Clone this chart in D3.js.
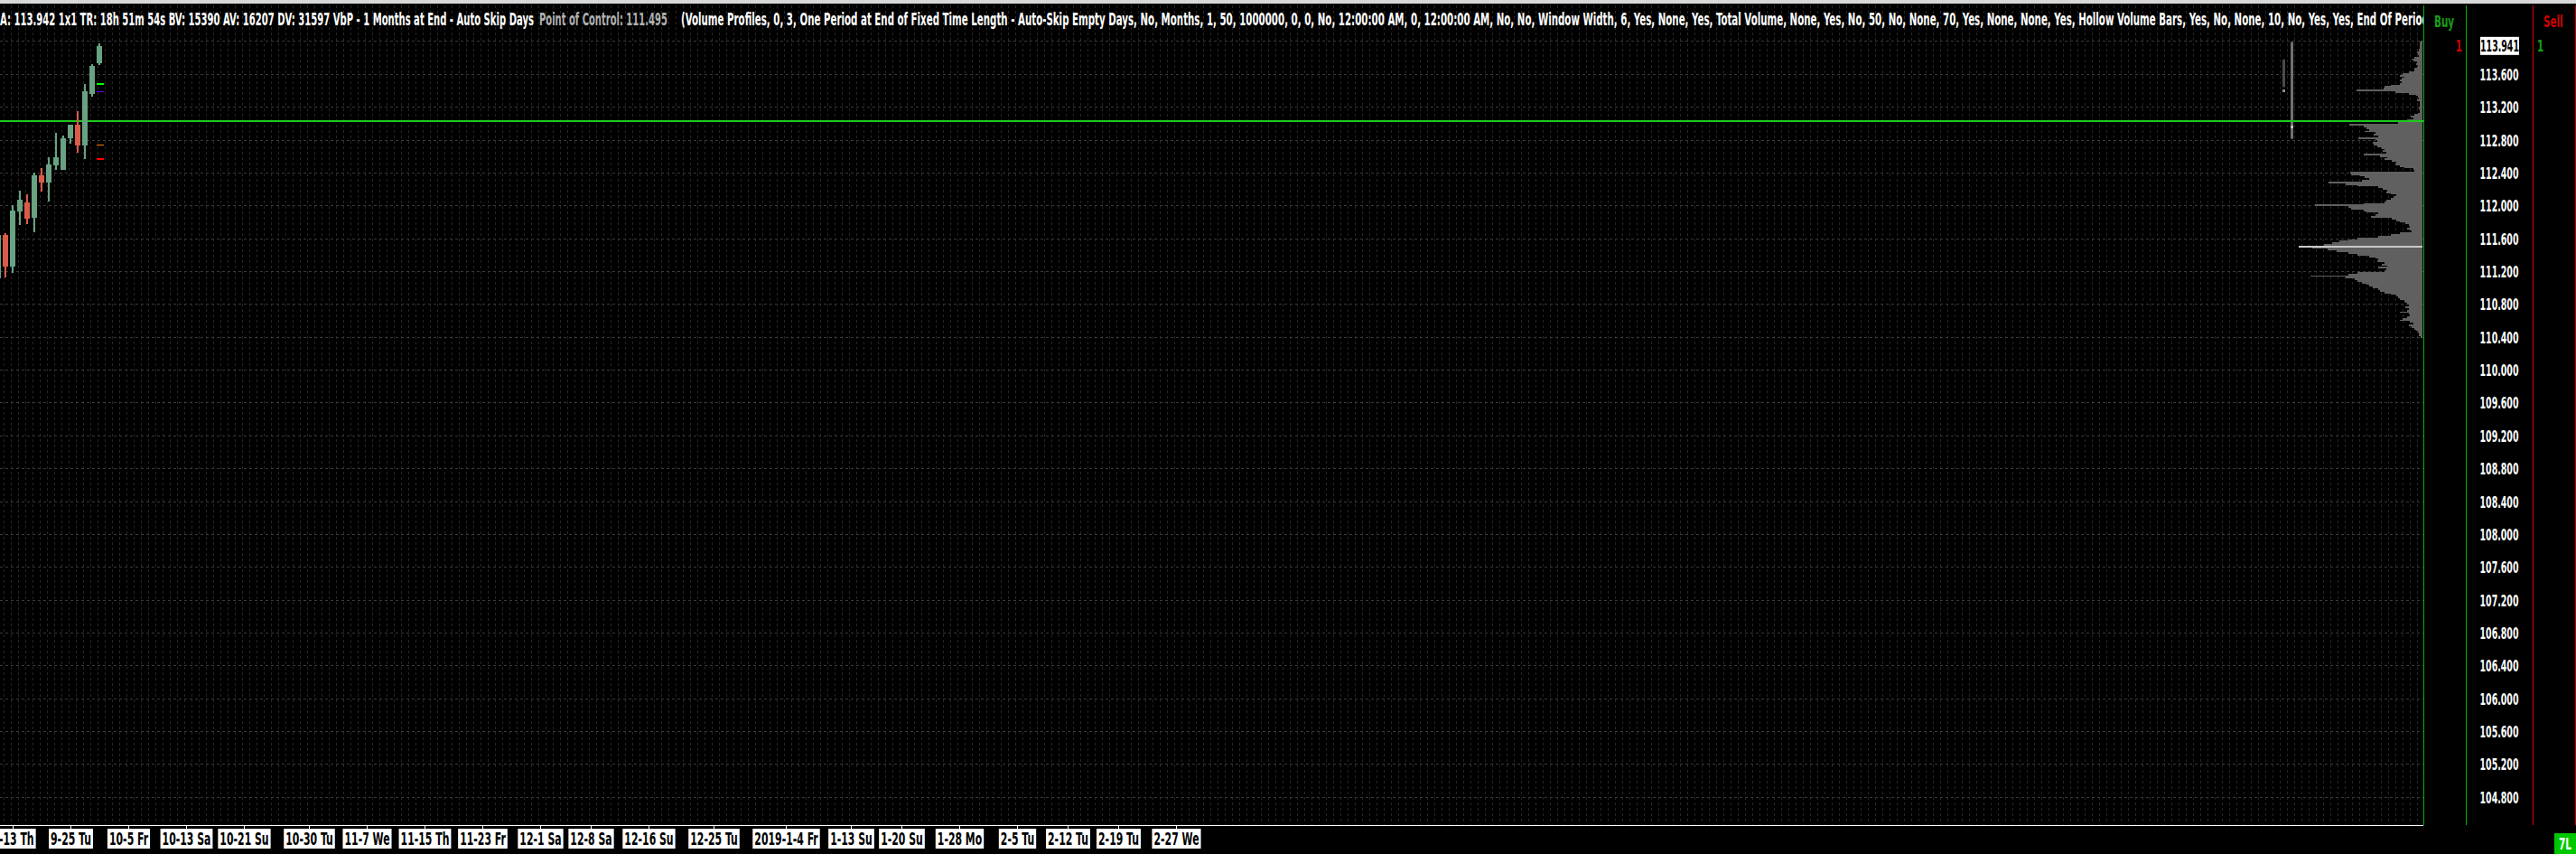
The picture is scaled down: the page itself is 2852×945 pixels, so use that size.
<!DOCTYPE html>
<html><head><meta charset="utf-8">
<script src="https://cdn.jsdelivr.net/npm/d3@7"></script>
<style>
html,body{margin:0;padding:0;background:#000;overflow:hidden}
svg{display:block}
text{font-family:'Liberation Sans Narrow','DejaVu Sans Condensed','Liberation Sans',Arial,sans-serif;font-weight:bold}
</style></head><body>
<svg id="c" width="2852" height="945"></svg>
<script>
// ---------- DATA ----------
const candleIdx   = [0,1,2,3,4,5,6,7,8,9,10,11,12,13,14];
const candleOpen  = [111.116,111.640,111.255,111.926,112.036,111.849,112.366,112.278,112.488,112.432,112.817,112.983,112.730,113.357,113.730];
const candleHigh  = [111.660,111.662,112.003,112.179,112.135,112.399,112.454,112.586,112.884,112.850,112.983,113.148,113.478,113.720,113.973];
const candleLow   = [111.100,111.124,111.178,111.761,111.772,111.673,112.168,112.047,112.432,112.432,112.751,112.642,112.565,113.324,113.709];
const candleClose = [111.640,111.255,111.937,112.070,111.838,112.366,112.278,112.498,112.586,112.817,112.983,112.730,113.390,113.698,113.942];

const markerPrices = [113.481,113.389,112.741,112.564];
const markerColors = ['#00ff00','#7a00ff','#ff8000','#ff0000'];
const markerWidths = [2,1,1,2];

const hLinePrice = 113.026;
const lastPrice = 113.941;

const priceTicks = [113.6,113.2,112.8,112.4,112.0,111.6,111.2,110.8,110.4,110.0,109.6,109.2,108.8,108.4,108.0,107.6,107.2,106.8,106.4,106.0,105.6,105.2,104.8];
const priceGrid  = [114.0].concat(priceTicks);

const dateLabels = ["9-13 Th","9-25 Tu","10-5 Fr","10-13 Sa","10-21 Su","10-30 Tu","11-7 We","11-15 Th","11-23 Fr","12-1 Sa","12-8 Sa","12-16 Su","12-25 Tu","2019-1-4 Fr","1-13 Su","1-20 Su","1-28 Mo","2-5 Tu","2-12 Tu","2-19 Tu","2-27 We"];
const dateIdx    = [2,10,18,26,34,43,51,59,67,75,82,90,99,109,118,125,133,141,148,155,163];

// volume profile: levels from profileTop downward, step profileStep
const profileTop = 114.00, profileStep = 0.02;
const profileVol = [
 20,27,30,27,33,37,43,63,53,43,
 87,120,103,60,70,53,63,87,93,153,
 220,253,203,227,247,233,253,353,420,427,
 727,303,153,70,53,43,60,33,27,33,
 30,40,27,33,53,87,127,103,170,253,
 270,810,653,620,587,637,520,537,487,710,
 520,503,553,537,503,453,420,437,403,653,
 470,387,420,337,287,303,253,203,103,87,
 803,787,687,637,587,670,1037,853,720,487,
 437,387,403,353,287,320,353,403,420,653,
 1187,820,787,653,620,487,520,570,337,287,
 253,187,153,137,170,137,120,253,353,487,
 720,820,920,1003,1087,1370,1220,1053,953,820,
 720,587,520,487,503,420,453,387,487,403,
 420,720,820,1237,853,753,720,670,620,587,
 553,487,470,420,353,287,270,253,203,187,
 170,153,187,153,170,253,153,137,170,220,
 253,137,103,153,120,87,70,53,37,37,
 20];
const pocPrice = 111.495;

// range bars in profile area
const rangeHigh = [113.777,113.990];
const rangeLow  = [113.440,112.810];
const rangeMark = [113.400,112.960];

const hdr1 = "A: 113.942 1x1 TR: 18h 51m 54s BV: 15390 AV: 16207 DV: 31597 VbP - 1 Months at End - Auto Skip Days";
const hdr2 = "Point of Control: 111.495";
const hdr3 = "(Volume Profiles, 0, 3, One Period at End of Fixed Time Length - Auto-Skip Empty Days, No, Months, 1, 50, 1000000, 0, 0, No, 12:00:00 AM, 0, 12:00:00 AM, No, No, Window Width, 6, Yes, None, Yes, Total Volume, None, Yes, No, 50, No, None, 70, Yes, None, None, Yes, Hollow Volume Bars, Yes, No, None, 10, No, Yes, Yes, End Of Period)";

// ---------- LAYOUT ----------
const W = 2852, H = 945;
const plotR = 2683, plotB = 913;
const svg = d3.select('#c');
svg.append('rect').attr('width',W).attr('height',H).attr('fill','#000');

const y = d3.scaleLinear().domain([104.457,114.5]).range([plotB,0]);
const x = d3.scaleLinear().domain([0,1]).range([-2,6]);

const defs = svg.append('defs');
defs.append('clipPath').attr('id','plotclip').append('rect').attr('x',0).attr('y',0).attr('width',plotR).attr('height',plotB);

const plot = svg.append('g').attr('clip-path','url(#plotclip)');

// grid
const vgrid = d3.range(0, 336);
plot.append('g').selectAll('line').data(vgrid).join('line')
  .attr('x1',d=>Math.round(x(d)-2.5)+0.5).attr('x2',d=>Math.round(x(d)-2.5)+0.5)
  .attr('y1',0).attr('y2',plotB)
  .attr('stroke','#262626').attr('stroke-width',1).attr('stroke-dasharray','3,3');
plot.append('g').selectAll('line').data(priceGrid).join('line')
  .attr('x1',0).attr('x2',plotR)
  .attr('y1',d=>Math.round(y(d))+0.5).attr('y2',d=>Math.round(y(d))+0.5)
  .attr('stroke','#3a3a3a').attr('stroke-width',1).attr('stroke-dasharray','3,3');

// volume profile
const maxVol = d3.max(profileVol);
const vx = d3.scaleLinear().domain([0,maxVol]).range([0,137]);
const profRight = 2682;
const prof = plot.append('g').attr('shape-rendering','crispEdges');
prof.selectAll('rect').data(profileVol).join('rect')
  .attr('x',d=>profRight - vx(d)).attr('width',d=>vx(d))
  .attr('y',(d,i)=>y(profileTop - i*profileStep + profileStep/2))
  .attr('height',(d,i)=>y(profileTop - i*profileStep - profileStep/2) - y(profileTop - i*profileStep + profileStep/2))
  .attr('fill',d=>d===maxVol?'#c8c8c8':'#606060');

// range bars
const rbX = [2527,2536], rbCol = ['#4a4a4a','#707070'], rbMk = ['#8a8a8a','#c0c0c0'];
rangeHigh.forEach((h,i)=>{
  plot.append('rect').attr('x',rbX[i]).attr('width',3).attr('y',y(h)).attr('height',y(rangeLow[i])-y(h)).attr('fill',rbCol[i]);
  plot.append('rect').attr('x',rbX[i]).attr('width',3).attr('y',y(rangeMark[i])-1).attr('height',3).attr('fill',rbMk[i]);
});

// horizontal green line
plot.append('rect').attr('x',0).attr('width',plotR).attr('y',y(hLinePrice)-1).attr('height',2).attr('fill','#1ec81e');

// candles
const up = '#68a283', dn = '#d95b48';
const cg = plot.append('g').attr('shape-rendering','crispEdges');
candleIdx.forEach((k,i)=>{
  const c = candleClose[i]>=candleOpen[i]?up:dn;
  const cx = x(k);
  cg.append('rect').attr('x',cx-1).attr('width',2).attr('y',y(candleHigh[i])).attr('height',y(candleLow[i])-y(candleHigh[i])).attr('fill',c);
  const top = Math.max(candleOpen[i],candleClose[i]), bot = Math.min(candleOpen[i],candleClose[i]);
  cg.append('rect').attr('x',cx-3).attr('width',6).attr('y',y(top)).attr('height',Math.max(1,y(bot)-y(top))).attr('fill',c);
});
// markers
markerPrices.forEach((p,i)=>{
  cg.append('rect').attr('x',x(14)-3).attr('width',8).attr('y',Math.round(y(p))-(markerWidths[i]>1?1:0)).attr('height',markerWidths[i]).attr('fill',markerColors[i]);
});

// bottom axis line
svg.append('rect').attr('x',0).attr('y',plotB).attr('width',plotR).attr('height',1).attr('fill','#ffffff');

// right panel lines
[[plotR,'#00b400'],[2730,'#00b400'],[2804,'#e00000'],[2851,'#c00000']].forEach(([lx,col])=>{
  svg.append('rect').attr('x',lx).attr('y',6).attr('width',1).attr('height',plotB-6).attr('fill',col);
});

// ---------- TEXT HELPERS ----------
function natW(size, str){
  const t = svg.append('text').attr('font-size',size).text(str);
  const w = t.node().getComputedTextLength(); t.remove();
  return w;
}
// place a horizontally condensed text via transform
function ctext(parent, px, py, str, size, sx, fill, anchor){
  return parent.append('text').attr('transform',`translate(${px},${py}) scale(${sx},1)`)
    .attr('font-size',size).attr('fill',fill).attr('text-anchor',anchor||'start').text(str);
}

// right price axis
const axSx = 43/natW(18,'113.600');
const yAxis = d3.axisRight(y).tickValues(priceTicks).tickFormat(d3.format('.3f')).tickSize(0).tickPadding(0);
const ya = svg.append('g').attr('transform','translate(2767,0)').call(yAxis);
ya.select('.domain').remove();
ya.selectAll('text').attr('fill','#ffffff').attr('font-size',18).attr('text-anchor','middle')
  .attr('font-family',null).attr('x',0).attr('dy','0.36em').attr('transform',`scale(${axSx},1)`);

// current price box
svg.append('rect').attr('x',2746).attr('y',y(lastPrice)-10).attr('width',43).attr('height',20).attr('fill','#ffffff');
ctext(svg, 2767.5, y(lastPrice)+6.5, d3.format('.3f')(lastPrice), 18, axSx, '#000', 'middle');

// buy / sell
const bsSx = 22/natW(17,'Buy');
ctext(svg, 2695, 30, 'Buy', 17, bsSx, '#16a016');
ctext(svg, 2816, 30, 'Sell', 17, bsSx, '#d00000');
ctext(svg, 2726, y(lastPrice)+6, '1', 17, bsSx, '#d00000', 'end');
ctext(svg, 2809, y(lastPrice)+6, '1', 17, bsSx, '#16a016');

// 7L box
svg.append('rect').attr('x',2828).attr('y',922).attr('width',24).attr('height',23).attr('fill','#00c800');
ctext(svg, 2840, 940, '7L', 18, 14/natW(18,'7L'), '#ffffff', 'middle');

// bottom date axis
const dSx = 45/natW(19,'9-25 Tu');
const xAxis = d3.axisBottom(x).tickValues(dateIdx).tickFormat((d,i)=>dateLabels[i]).tickSize(4).tickPadding(7);
const xa = svg.append('g').attr('transform',`translate(0,${plotB+0.5})`).call(xAxis);
xa.select('.domain').remove();
xa.selectAll('.tick line').attr('stroke','#ffffff').attr('shape-rendering','crispEdges');
xa.selectAll('text').attr('fill','#000').attr('font-size',19).attr('font-family',null)
  .attr('y',0).attr('dy',null).attr('transform',`translate(0,21) scale(${dSx},1)`);
xa.selectAll('.tick').each(function(){
  const t = d3.select(this).select('text');
  const w = t.node().getComputedTextLength()*dSx;
  d3.select(this).insert('rect','text').attr('x',-w/2-2).attr('y',3.5).attr('width',w+4).attr('height',22).attr('fill','#ffffff');
});

// header
svg.append('rect').attr('x',0).attr('y',0).attr('width',W).attr('height',4).attr('fill','#d8d8d8');
defs.append('clipPath').attr('id','hclip').append('rect').attr('x',0).attr('y',0).attr('width',plotR).attr('height',60);
const hg = svg.append('g').attr('clip-path','url(#hclip)');
const hy = 28, hs = 19;
ctext(hg, 0, hy, hdr1, hs, 591/natW(hs,hdr1), '#ffffff');
ctext(hg, 597, hy, hdr2, hs, 142/natW(hs,hdr2), '#b0b0b0');
const wPre = natW(hs, hdr3.slice(0, hdr3.indexOf('Period)')+5));
ctext(hg, 754, hy, hdr3, hs, (plotR-754)/wPre, '#ffffff');
</script>
</body></html>
